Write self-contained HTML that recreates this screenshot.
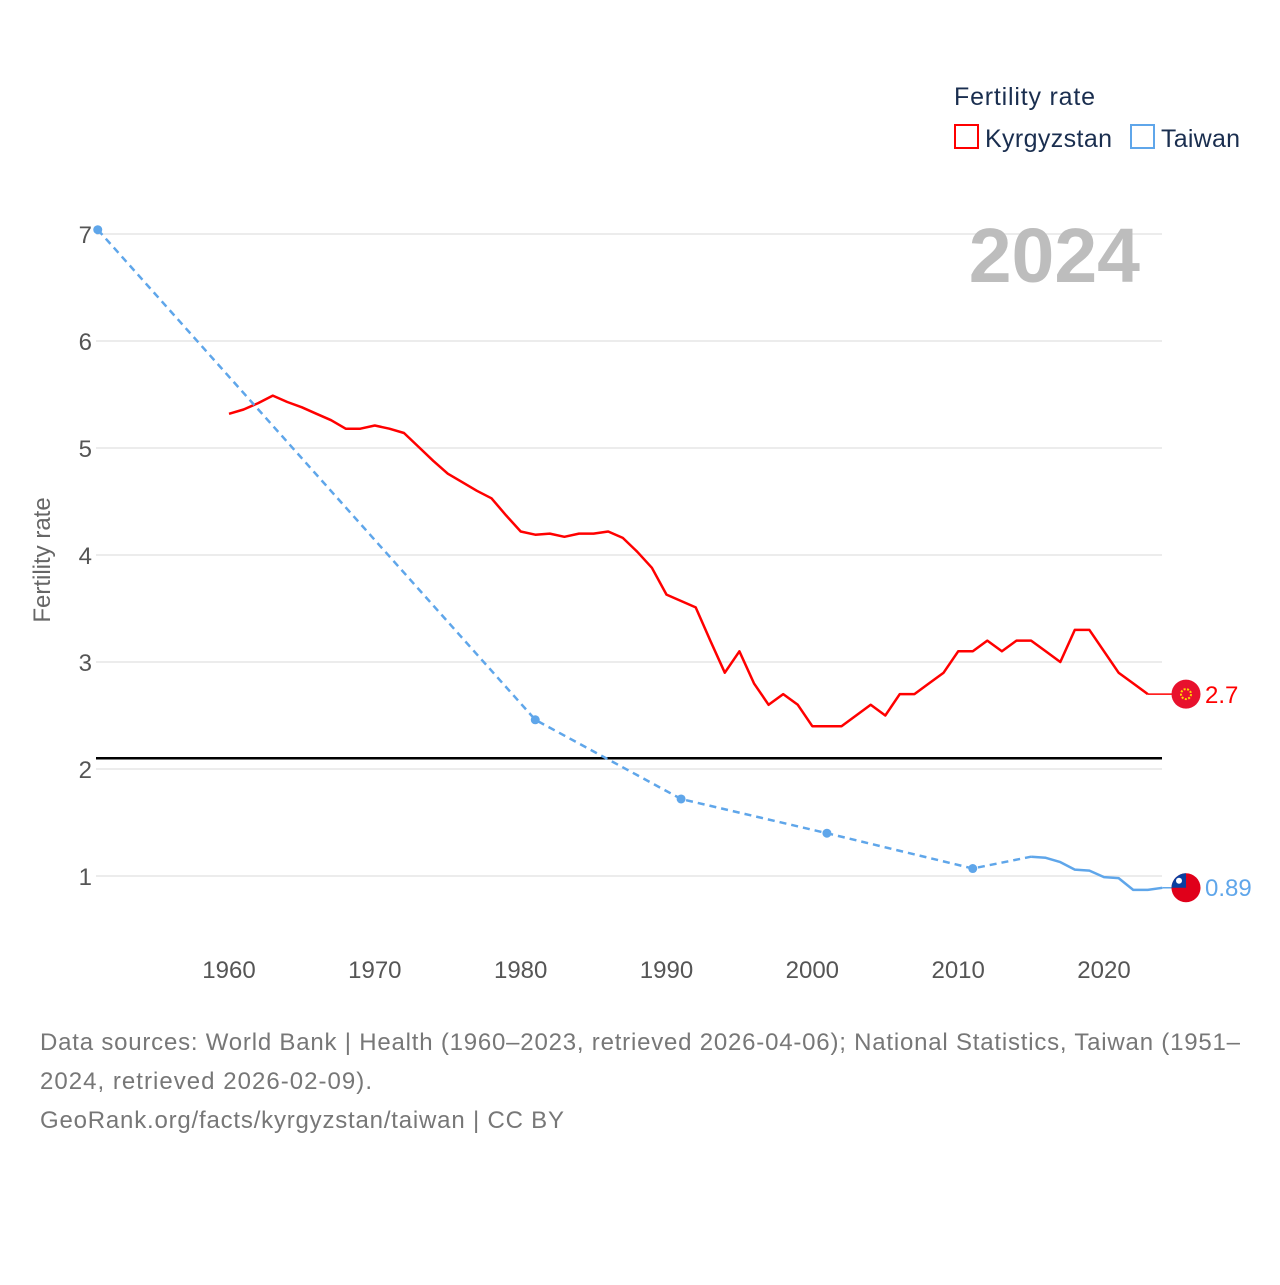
<!DOCTYPE html>
<html><head><meta charset="utf-8"><style>
body{margin:0;background:#fff;}
svg text{font-family:"Liberation Sans",sans-serif;}
</style></head><body>
<svg width="1280" height="1280" viewBox="0 0 1280 1280" xmlns="http://www.w3.org/2000/svg">
<g id="grid"></g>
<text x="1140" y="282" text-anchor="end" font-size="77" font-weight="bold" fill="#bdbdbd">2024</text>
<g id="yticks"></g>
<g id="xticks"></g>
<text transform="translate(50,560) rotate(-90)" text-anchor="middle" font-size="24" fill="#666">Fertility rate</text>
<line id="repl" stroke="#000" stroke-width="2.5"/>
<g id="series"></g>
<g>
<text x="954" y="105" font-size="25" fill="#1a2e4f" textLength="141">Fertility rate</text>
<rect x="955" y="125" width="23" height="23" fill="none" stroke="#f00" stroke-width="2"/>
<text x="985" y="147" font-size="25" fill="#1a2e4f" textLength="127">Kyrgyzstan</text>
<rect x="1131" y="125" width="23" height="23" fill="none" stroke="#5fa6ea" stroke-width="2"/>
<text x="1161" y="147" font-size="25" fill="#1a2e4f" textLength="79">Taiwan</text>
</g>
<g font-size="24" fill="#777">
<text x="40" y="1050" textLength="1200">Data sources: World Bank | Health (1960–2023, retrieved 2026-04-06); National Statistics, Taiwan (1951–</text>
<text x="40" y="1089" textLength="332">2024, retrieved 2026-02-09).</text>
<text x="40" y="1128" textLength="524">GeoRank.org/facts/kyrgyzstan/taiwan | CC BY</text>
</g>
</svg>
<script>
const yTicks=[1,2,3,4,5,6,7];
const xTicks=[1960,1970,1980,1990,2000,2010,2020];
const kgYears=[1960,1961,1962,1963,1964,1965,1966,1967,1968,1969,1970,1971,1972,1973,1974,1975,1976,1977,1978,1979,1980,1981,1982,1983,1984,1985,1986,1987,1988,1989,1990,1991,1992,1993,1994,1995,1996,1997,1998,1999,2000,2001,2002,2003,2004,2005,2006,2007,2008,2009,2010,2011,2012,2013,2014,2015,2016,2017,2018,2019,2020,2021,2022,2023];
const kgValues=[5.32,5.36,5.42,5.49,5.43,5.38,5.32,5.26,5.18,5.18,5.21,5.18,5.14,5.01,4.88,4.76,4.68,4.60,4.53,4.37,4.22,4.19,4.20,4.17,4.20,4.20,4.22,4.16,4.03,3.88,3.63,3.57,3.51,3.2,2.9,3.1,2.8,2.6,2.7,2.6,2.4,2.4,2.4,2.5,2.6,2.5,2.7,2.7,2.8,2.9,3.1,3.1,3.2,3.1,3.2,3.2,3.1,3.0,3.3,3.3,3.1,2.9,2.8,2.7];
const twSparseYears=[1951,1981,1991,2001,2011,2015];
const twSparseValues=[7.04,2.46,1.72,1.40,1.07,1.18];
const twDotYears=[1951,1981,1991,2001,2011];
const twDotValues=[7.04,2.46,1.72,1.40,1.07];
const twYears=[2015,2016,2017,2018,2019,2020,2021,2022,2023,2024];
const twValues=[1.18,1.17,1.13,1.06,1.05,0.99,0.98,0.87,0.87,0.89];
const replacementLevel=2.1;
const kgLast=2.7, twLast=0.89;

const NS='http://www.w3.org/2000/svg';
const X=yr=>229+(yr-1960)*(875/60);
const Y=v=>983-107*v;
const L=96,R=1162;
function mk(t,a,p){const e=document.createElementNS(NS,t);for(const k in a)e.setAttribute(k,a[k]);p.appendChild(e);return e;}
const grid=document.getElementById('grid'),yt=document.getElementById('yticks'),xt=document.getElementById('xticks'),S=document.getElementById('series');
yTicks.forEach(v=>{
 const g=mk('line',{x1:L,x2:R,y1:Y(v),y2:Y(v),stroke:'#e6e6e6','stroke-width':1.5},grid);
 
 
 const t=mk('text',{x:92,y:Y(v)+9,'text-anchor':'end','font-size':24,fill:'#555'},yt);t.textContent=v;
 
 
});
xTicks.forEach(yr=>{
 const t=mk('text',{x:X(yr),y:978,'text-anchor':'middle','font-size':24,fill:'#555'},xt);t.textContent=yr;
 
 
});
const rl=document.getElementById('repl');
rl.setAttribute('x1',L);rl.setAttribute('x2',R);rl.setAttribute('y1',Y(replacementLevel));rl.setAttribute('y2',Y(replacementLevel));
const pts=(ys,vs)=>ys.map((y,i)=>X(y).toFixed(1)+','+Y(vs[i]).toFixed(1)).join(' ');
const kl=mk('polyline',{points:pts(kgYears,kgValues),fill:'none',stroke:'#f00','stroke-width':2.5,'stroke-linejoin':'round'},S);


const kx=mk('line',{x1:X(2023),x2:1175,y1:Y(kgLast),y2:Y(kgLast),stroke:'#f00','stroke-width':1.5},S);


const td=mk('polyline',{points:pts(twSparseYears,twSparseValues),fill:'none',stroke:'#5fa6ea','stroke-width':2.5,'stroke-dasharray':'7,5'},S);


const tl=mk('polyline',{points:pts(twYears,twValues),fill:'none',stroke:'#5fa6ea','stroke-width':2.5,'stroke-linejoin':'round'},S);


twDotYears.forEach((y,i)=>{
 const c=mk('circle',{cx:X(y),cy:Y(twDotValues[i]),r:4.5,fill:'#5fa6ea'},S);
 
 
});
const tx=mk('line',{x1:X(2024),x2:1175,y1:Y(twLast),y2:Y(twLast),stroke:'#5fa6ea','stroke-width':1.5},S);


const fk=mk('circle',{cx:1186,cy:Y(kgLast),r:14.5,fill:'#e8112d'},S);


const sun=mk('circle',{cx:1186,cy:Y(kgLast),r:5,fill:'none',stroke:'#ffd700','stroke-width':2,'stroke-dasharray':'2,1.5'},S);


const ft=mk('circle',{cx:1186,cy:Y(twLast),r:14.5,fill:'#e0001a'},S);


const fc=mk('path',{d:`M1186 ${Y(twLast)} L1186 ${Y(twLast)-14.5} A14.5 14.5 0 0 0 1171.5 ${Y(twLast)} Z`,fill:'#0a3fa0'},S);


const fs=mk('circle',{cx:1179,cy:Y(twLast)-7,r:3,fill:'#fff'},S);


const lk=mk('text',{x:1205,y:Y(kgLast)+9,'font-size':24,fill:'#f00'},S);lk.textContent=kgLast;


const lt=mk('text',{x:1205,y:Y(twLast)+8,'font-size':24,fill:'#5fa6ea'},S);lt.textContent=twLast;


</script>
</body></html>
